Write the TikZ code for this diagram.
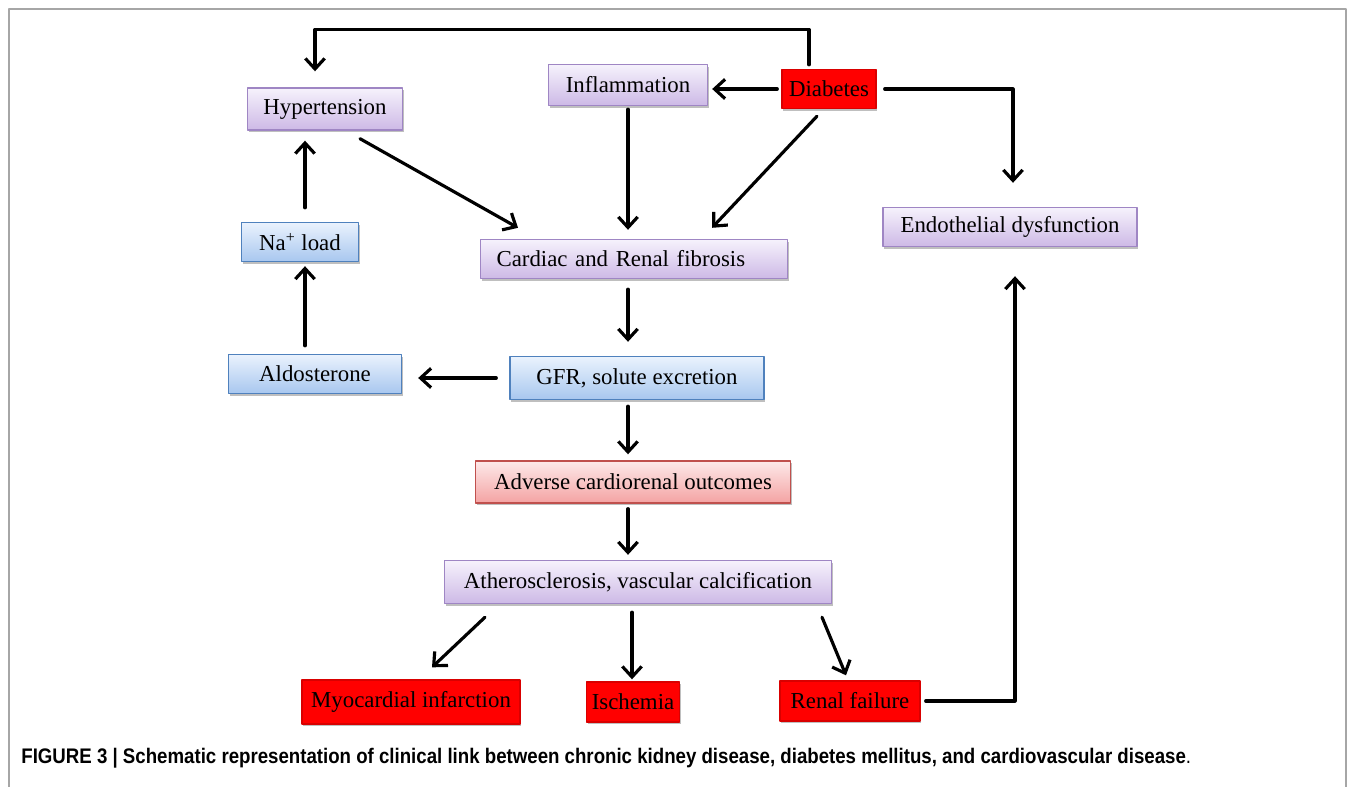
\documentclass[tikz,border=0pt]{standalone}
\usepackage{fontspec}
\setmainfont{Liberation Serif}
\newfontfamily\capfont{Liberation Sans}
\usetikzlibrary{arrows.meta,calc,shadows}

\definecolor{lilactop}{HTML}{F6F2FC}
\definecolor{lilacbot}{HTML}{CDB9E6}
\definecolor{lilacline}{HTML}{9F86C4}
\definecolor{bluetop}{HTML}{EAF2FD}
\definecolor{bluebot}{HTML}{A8C7EF}
\definecolor{blueline}{HTML}{4F81BD}
\definecolor{pinktop}{HTML}{FDE9E9}
\definecolor{pinkbot}{HTML}{F4A3A3}
\definecolor{pinkline}{HTML}{C0504D}
\definecolor{alarm}{HTML}{FF0000}

\tikzset{
  box/.style={line width=0.8pt, inner sep=2pt,
    drop shadow={shadow xshift=0.8pt, shadow yshift=-1.3pt, opacity=0.25, fill=black}},
  lilacbox/.style={box, draw=lilacline, top color=lilactop, bottom color=lilacbot},
  bluebox/.style={box, draw=blueline, top color=bluetop, bottom color=bluebot},
  pinkbox/.style={box, draw=pinkline, top color=pinktop, bottom color=pinkbot},
  redbox/.style={box, draw=alarm!85!black, fill=alarm},
  link/.style={-{Straight Barb[length=6pt,width=11pt]}, line width=1.8pt},
}

\begin{document}
\begin{tikzpicture}[x=0.02cm, y=-0.02cm, font=\fontsize{13}{15}\selectfont, line join=round, line cap=round]
  \useasboundingbox (0,0) rectangle (1355,787);
  \draw[gray!70, line width=0.8pt] (9,787) -- (9,9) -- (1346,9) -- (1346,787);

  % boxes
  \node[lilacbox, minimum width=3.1cm, minimum height=0.84cm] (hyp) at (325,109) {Hypertension};
  \node[lilacbox, minimum width=3.18cm, minimum height=0.82cm] (infl) at (628,85) {Inflammation};
  \node[redbox, minimum width=1.88cm, minimum height=0.78cm] (diab) at (829,89) {Diabetes};
  \node[lilacbox, minimum width=5.08cm, minimum height=0.78cm] (endo) at (1010,227) {Endothelial dysfunction};
  \node[bluebox, minimum width=2.34cm, minimum height=0.78cm] (na) at (300,242) {Na\textsuperscript{+} load};
  \node[lilacbox, text width=5.5cm, inner xsep=0.32cm, align=left, minimum height=0.78cm] (fib) at (634,259) {Cardiac and Renal fibrosis};
  \node[bluebox, minimum width=3.46cm, minimum height=0.78cm] (ald) at (315,374) {Aldosterone};
  \node[bluebox, minimum width=5.08cm, minimum height=0.86cm] (gfr) at (637,378) {GFR, solute excretion};
  \node[pinkbox, minimum width=6.3cm, minimum height=0.84cm] (adv) at (633,482) {Adverse cardiorenal outcomes};
  \node[lilacbox, minimum width=7.74cm, minimum height=0.86cm] (ath) at (638,582) {Atherosclerosis, vascular calcification};
  \node[redbox, minimum width=4.36cm, minimum height=0.88cm] (mi) at (411,702) {Myocardial infarction};
  \node[redbox, minimum width=1.86cm, minimum height=0.8cm] (isch) at (633,702) {Ischemia};
  \node[redbox, minimum width=2.8cm, minimum height=0.8cm] (rf) at (850,701) {Renal failure};

  % links
  \draw[link] ($(diab.north)+(-20,-4)$) |- ($(hyp.north)+(-10,-58)$) -- ($(hyp.north)+(-10,-16)$);
  \draw[link] ($(diab.west)+(-4,0)$) -- ($(infl.east |- diab.west)+(4,0)$);
  \draw[link] ($(diab.east)+(8,0)$) -| ($(endo.north)+(3,-24)$);
  \draw[link] ($(diab.south)+(-12,7)$) -- ($(fib.north)+(78,-11)$);
  \draw[link] ($(infl.south)+(0,3)$) -- ($(infl.south |- fib.north)+(0,-9)$);
  \draw[link] ($(hyp.south)+(35,8)$) -- ($(fib.north)+(-116,-11)$);
  \draw[link] ($(fib.south)+(-6,10)$) -- ($(gfr.north)+(-9,-14)$);
  \draw[link] ($(gfr.west)+(-13,0)$) -- ($(ald.east |- gfr.west)+(16,0)$);
  \draw[link] ($(ald.north)+(-10,-8)$) -- ($(na.south)+(5,4)$);
  \draw[link] ($(na.north)+(5,-14)$) -- ($(hyp.south)+(-20,10)$);
  \draw[link] ($(gfr.south)+(-9,6)$) -- ($(adv.north)+(-5,-6)$);
  \draw[link] ($(adv.south)+(-5,5)$) -- ($(ath.north)+(-10,-5)$);
  \draw[link] ($(ath.south)+(-153,13)$) -- ($(mi.north)+(21,-12)$);
  \draw[link] ($(ath.south)+(-6,8)$) -- ($(isch.north)+(-1,-2)$);
  \draw[link] ($(ath.south)+(184,13)$) -- ($(rf.north)+(-4,-5)$);
  \draw[link] ($(rf.east)+(5,0)$) -| ($(endo.south)+(5,29)$);

  % caption
  \node[anchor=west, inner sep=0pt, font=\capfont\bfseries\fontsize{12}{14}\selectfont] (cap) at (21,758)
    {\scalebox{0.885}[1]{FIGURE 3 | Schematic representation of clinical link between chronic kidney disease, diabetes mellitus, and cardiovascular disease\textmd{.}}};
\end{tikzpicture}
\end{document}
